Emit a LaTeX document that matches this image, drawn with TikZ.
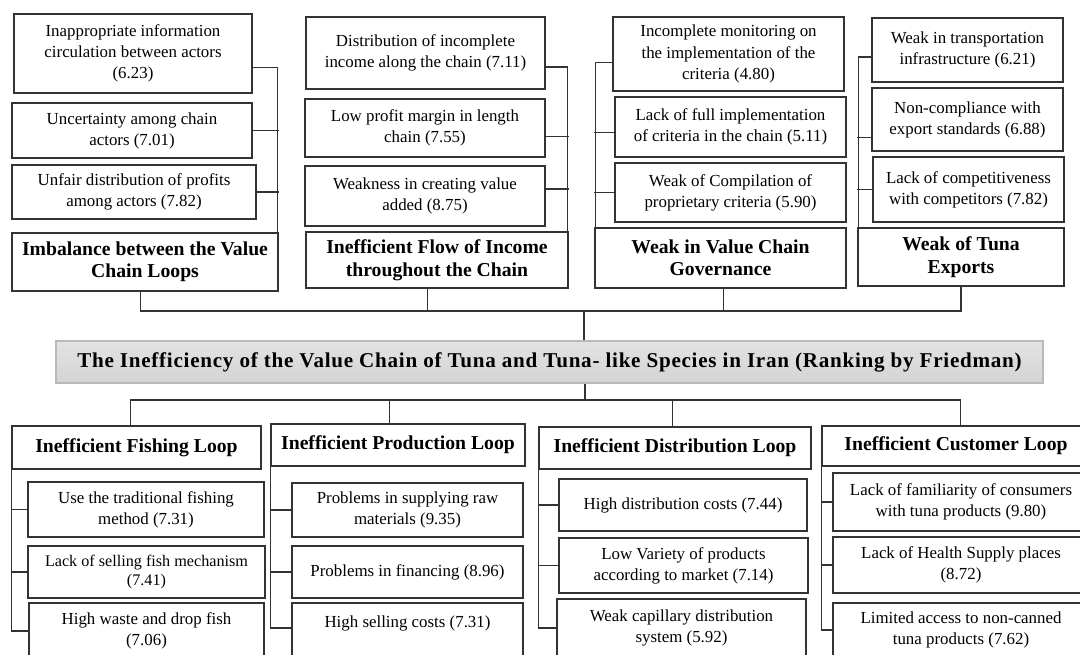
\documentclass[tikz,border=0pt]{standalone}
\usepackage{fontspec}
\setmainfont{Liberation Serif}
\newfontfamily\titlefont[LetterSpace=3.5]{Liberation Serif}
\begin{document}
\begin{tikzpicture}
  [x=0.025cm,y=-0.025cm,
   item/.style 2 args={draw=black!80,line width=0.8pt,minimum width=#1*0.025cm,minimum height=#2*0.025cm,
     align=center,inner sep=1pt,font=\fontsize{12}{15}\selectfont},
   head/.style 2 args={item={#1}{#2},font=\bfseries\fontsize{14}{16}\selectfont},
   title/.style={draw=gray!55,line width=0.8pt,top color=gray!22,bottom color=gray!34,
     minimum width=987*0.025cm,minimum height=42*0.025cm,font=\titlefont\bfseries\fontsize{15}{18}\selectfont},
   line/.style={draw=black!80,line width=0.8pt}]
  \useasboundingbox (0,0) rectangle (1080,655);
  % top groups
  \node[item={238}{79}] (a1) at (133,53.5) {Inappropriate information\\circulation between actors\\(6.23)};
  \node[item={240}{55}] (a2) at (132,130.5) {Uncertainty among chain\\actors (7.01)};
  \node[item={244}{54}] (a3) at (134,192) {Unfair distribution of profits\\among actors (7.82)};
  \node[head={266}{58}] (h1) at (145,262) {Imbalance between the Value\\Chain Loops};
  \node[item={239}{72}] (b1) at (425.5,53) {Distribution of incomplete\\income along the chain (7.11)};
  \node[item={240}{58}] (b2) at (425,128) {Low profit margin in length\\chain (7.55)};
  \node[item={240}{60}] (b3) at (425,196) {Weakness in creating value\\added (8.75)};
  \node[head={262}{56}] (h2) at (437,260) {Inefficient Flow of Income\\throughout the Chain};
  \node[item={231}{74}] (c1) at (728.5,54) {Incomplete monitoring on\\the implementation of the\\criteria (4.80)};
  \node[item={231}{60}] (c2) at (730.5,127) {Lack of full implementation\\of criteria in the chain (5.11)};
  \node[item={231}{59}] (c3) at (730.5,192.5) {Weak of Compilation of\\proprietary criteria (5.90)};
  \node[head={251}{60}] (h3) at (720.5,258) {Weak in Value Chain\\Governance};
  \node[item={191}{64}] (d1) at (967.5,50) {Weak in transportation\\infrastructure (6.21)};
  \node[item={191}{63}] (d2) at (967.5,119.5) {Non-compliance with\\export standards (6.88)};
  \node[item={191}{65}] (d3) at (968.5,189.5) {Lack of competitiveness\\with competitors (7.82)};
  \node[head={206}{58}] (h4) at (961,257) {Weak of Tuna\\Exports};
  % title
  \node[title] (main) at (549.5,362) {The Inefficiency of the Value Chain of Tuna and Tuna- like Species in Iran (Ranking by Friedman)};
  % bottom groups
  \node[head={249}{43}] (e) at (136.5,447.5) {Inefficient Fishing Loop};
  \node[item={236}{55}] (e1) at (146,509.5) {Use the traditional fishing\\method (7.31)};
  \node[item={237}{52},font=\fontsize{11.5}{14}\selectfont] (e2) at (146.5,572) {Lack of selling fish mechanism\\(7.41)};
  \node[item={235}{56}] (e3) at (146.5,631) {High waste and drop fish\\(7.06)};
  \node[head={254}{42}] (f) at (398,445) {Inefficient Production Loop};
  \node[item={231}{54}] (f1) at (407.5,510) {Problems in supplying raw\\materials (9.35)};
  \node[item={231}{52}] (f2) at (407.5,572) {Problems in financing (8.96)};
  \node[item={231}{64}] (f3) at (407.5,635) {High selling costs (7.31)\\\strut};
  \node[head={272}{42}] (g) at (675,448) {Inefficient Distribution Loop};
  \node[item={248}{52}] (g1) at (683,505) {High distribution costs (7.44)};
  \node[item={249}{55}] (g2) at (683.5,565.5) {Low Variety of products\\according to market (7.14)};
  \node[item={249}{58}] (g3) at (681.5,628) {Weak capillary distribution\\system (5.92)};
  \node[head={268}{40}] (k) at (956,446) {Inefficient Customer Loop};
  \node[item={256}{58}] (k1) at (961,502) {Lack of familiarity of consumers\\with tuna products (9.80)};
  \node[item={256}{56}] (k2) at (961,565) {Lack of Health Supply places\\(8.72)};
  \node[item={256}{54}] (k3) at (961,630) {Limited access to non-canned\\tuna products (7.62)};
  % brackets of the top groups
  \draw[line] ([yshift=-10pt]a1.east) -| ([xshift=-1pt]h1.north east);
  \draw[line] (a2.east) -- (a2.east -| h1.north east);
  \draw[line] (a3.east) -- (a3.east -| h1.north east);
  \draw[line] ([yshift=-10pt]b1.east) -| ([xshift=-1pt]h2.north east);
  \draw[line] ([yshift=-6pt]b2.east) -- ([yshift=-6pt]b2.east -| h2.north east);
  \draw[line] ([yshift=5pt]b3.east) -- ([yshift=5pt]b3.east -| h2.north east);
  \draw[line] ([yshift=-6pt]c1.west) -| ([xshift=1pt]h3.north west);
  \draw[line] ([yshift=-4pt]c2.west) -- ([yshift=-4pt]c2.west -| h3.north west);
  \draw[line] (c3.west) -- (c3.west -| h3.north west);
  \draw[line] ([yshift=-5pt]d1.west) -| ([xshift=1pt]h4.north west);
  \draw[line] ([yshift=-13pt]d2.west) -- ([yshift=-13pt]d2.west -| h4.north west);
  \draw[line] (d3.west) -- (d3.west -| h4.north west);
  % buses
  \coordinate (top) at (584,311);
  \coordinate (bot) at (585,400);
  \draw[line] ([xshift=-3pt]h1.south) |- (top) -| (h4.south);
  \draw[line] ([xshift=-7pt]h2.south) -- ([xshift=-7pt]h2.south |- top);
  \draw[line] ([xshift=2pt]h3.south) -- ([xshift=2pt]h3.south |- top);
  \draw[line] (top) -- (top |- main.north);
  \draw[line] (main.south -| bot) -- (bot);
  \draw[line] ([xshift=-4pt]e.north) |- (bot) -| ([xshift=3.5pt]k.north);
  \draw[line] ([xshift=-6pt]f.north) -- ([xshift=-6pt]f.north |- bot);
  \draw[line] ([xshift=-2pt]g.north) -- ([xshift=-2pt]g.north |- bot);
  % brackets of the bottom groups
  \draw[line] (e.south west) |- (e3.west);
  \draw[line] (e1.west -| e.south west) -- (e1.west);
  \draw[line] (e2.west -| e.south west) -- (e2.west);
  \draw[line] (f.south west) |- ([yshift=5pt]f3.west);
  \draw[line] (f1.west -| f.south west) -- (f1.west);
  \draw[line] (f2.west -| f.south west) -- (f2.west);
  \draw[line] (g.south west) |- (g3.west);
  \draw[line] (g1.west -| g.south west) -- (g1.west);
  \draw[line] (g2.west -| g.south west) -- (g2.west);
  \draw[line] (k.south west) |- (k3.west);
  \draw[line] (k1.west -| k.south west) -- (k1.west);
  \draw[line] (k2.west -| k.south west) -- (k2.west);
\end{tikzpicture}
\end{document}
